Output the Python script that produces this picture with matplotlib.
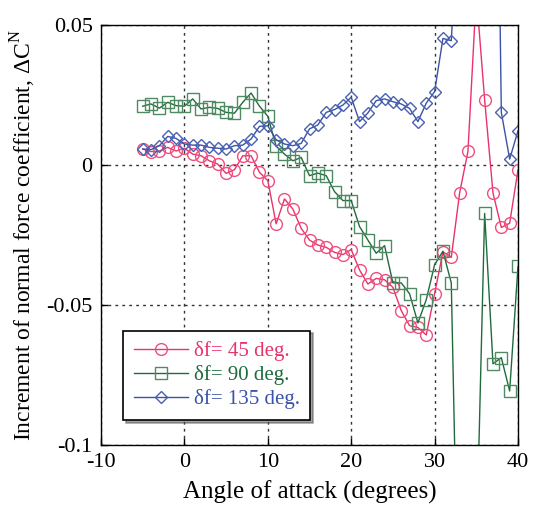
import matplotlib
matplotlib.use("Agg")
import matplotlib.pyplot as plt
import numpy as np

plt.rcParams['font.family'] = ['Liberation Serif', 'DejaVu Serif']
plt.rcParams['mathtext.fontset'] = 'custom'
plt.rcParams['mathtext.rm'] = 'Liberation Serif'

angles = list(range(-5, 41))

df45 = [0.0057, 0.0048, 0.0050, 0.0063, 0.0050, 0.0060, 0.0039, 0.0033, 0.0015, 0.0003,
        -0.0030, -0.0017, 0.0033, 0.0033, -0.0026, -0.0056, -0.0210, -0.0121, -0.0157, -0.0226,
        -0.0268, -0.0286, -0.0294, -0.0312, -0.0320, -0.0302, -0.0375, -0.0425, -0.0405, -0.0410,
        -0.0437, -0.0520, -0.0574, -0.0580, -0.0607, -0.0460, -0.0310, -0.0330, -0.0100, 0.0049,
        0.0610, 0.0233, -0.0100, -0.0223, -0.0208, -0.0017]

df90 = [0.0210, 0.0218, 0.0203, 0.0224, 0.0212, 0.0210, 0.0236, 0.0200, 0.0206, 0.0202,
        0.0188, 0.0185, 0.0224, 0.0257, 0.0210, 0.0174, 0.0067, 0.0039, 0.0015, 0.0027,
        -0.0038, -0.0029, -0.0038, -0.0095, -0.0127, -0.0127, -0.0220, -0.0268, -0.0315, -0.0288,
        -0.0421, -0.0421, -0.0460, -0.0564, -0.0481, -0.0356, -0.0308, -0.0421, -0.1860, -0.1700,
        -0.1380, -0.0173, -0.0710, -0.0688, -0.0807, -0.0362]

df135 = [0.0057, 0.0055, 0.0069, 0.0102, 0.0095, 0.0075, 0.0071, 0.0071, 0.0063, 0.0060,
         0.0057, 0.0069, 0.0071, 0.0093, 0.0138, 0.0140, 0.0090, 0.0075, 0.0069, 0.0077,
         0.0129, 0.0143, 0.0188, 0.0198, 0.0214, 0.0242, 0.0155, 0.0186, 0.0230, 0.0236,
         0.0226, 0.0218, 0.0202, 0.0155, 0.0221, 0.0262, 0.0452, 0.0444, 0.1000, 0.1500,
         0.2000, 0.2200, 0.2400, 0.0188, 0.0021, 0.0122]

labels = ['δf= 45 deg.', 'δf= 90 deg.', 'δf= 135 deg.']
colors = ['#e8336b', '#1f6b3c', '#3a52a8']
mcolors = ['#ee4f7f', '#4f8a63', '#4a60b0']
markers = ['o', 's', 'D']
msizes = [8.5, 8.0, 6.0]

fig = plt.figure(figsize=(5.34, 5.17), dpi=100)
ax = fig.add_axes([101/534, 1 - 445/517, 417/534, 420/517])

for y, lab, c, mc, m, ms in zip([df45, df90, df135], labels, colors, mcolors, markers, msizes):
    ax.plot(angles, y, color=c, lw=1.0, marker=m, ms=ms, mfc='none', mec=mc, mew=1.0,
            label=lab, clip_on=True)

ax.set_xlim(-10, 40)
ax.set_ylim(-0.1, 0.05)
ax.set_xticks([-10, 0, 10, 20, 30, 40])
ax.set_xticklabels(['-10', '0', '10', '20', '30', '40'])
ax.set_yticks([-0.1, -0.05, 0, 0.05])
ax.set_yticklabels(['-0.1', '-0.05', '0', '0.05'])
ax.tick_params(direction='in', length=5, labelsize=16, width=1, pad=6)
ax.grid(True, color='#333333', linestyle=(0, (2, 3)), lw=1.0)
for s in ax.spines.values():
    s.set_linewidth(1.0)

ax.set_xlabel('Angle of attack (degrees)', fontsize=18, labelpad=6)
ax.set_ylabel('Increment of normal force coefficient, ΔC$^{\\mathrm{N}}$', fontsize=17, labelpad=6)

leg = ax.legend(loc='lower left', bbox_to_anchor=(0.053, 0.06), fontsize=15, frameon=True,
                fancybox=False, shadow=True, edgecolor='black', handlelength=2.6,
                borderpad=0.5, labelspacing=0.2, handletextpad=0.3, borderaxespad=0.0)
leg.get_frame().set_linewidth(1.2)
for t, c in zip(leg.get_texts(), colors):
    t.set_color(c)

fig.savefig('out.png', dpi=100)
